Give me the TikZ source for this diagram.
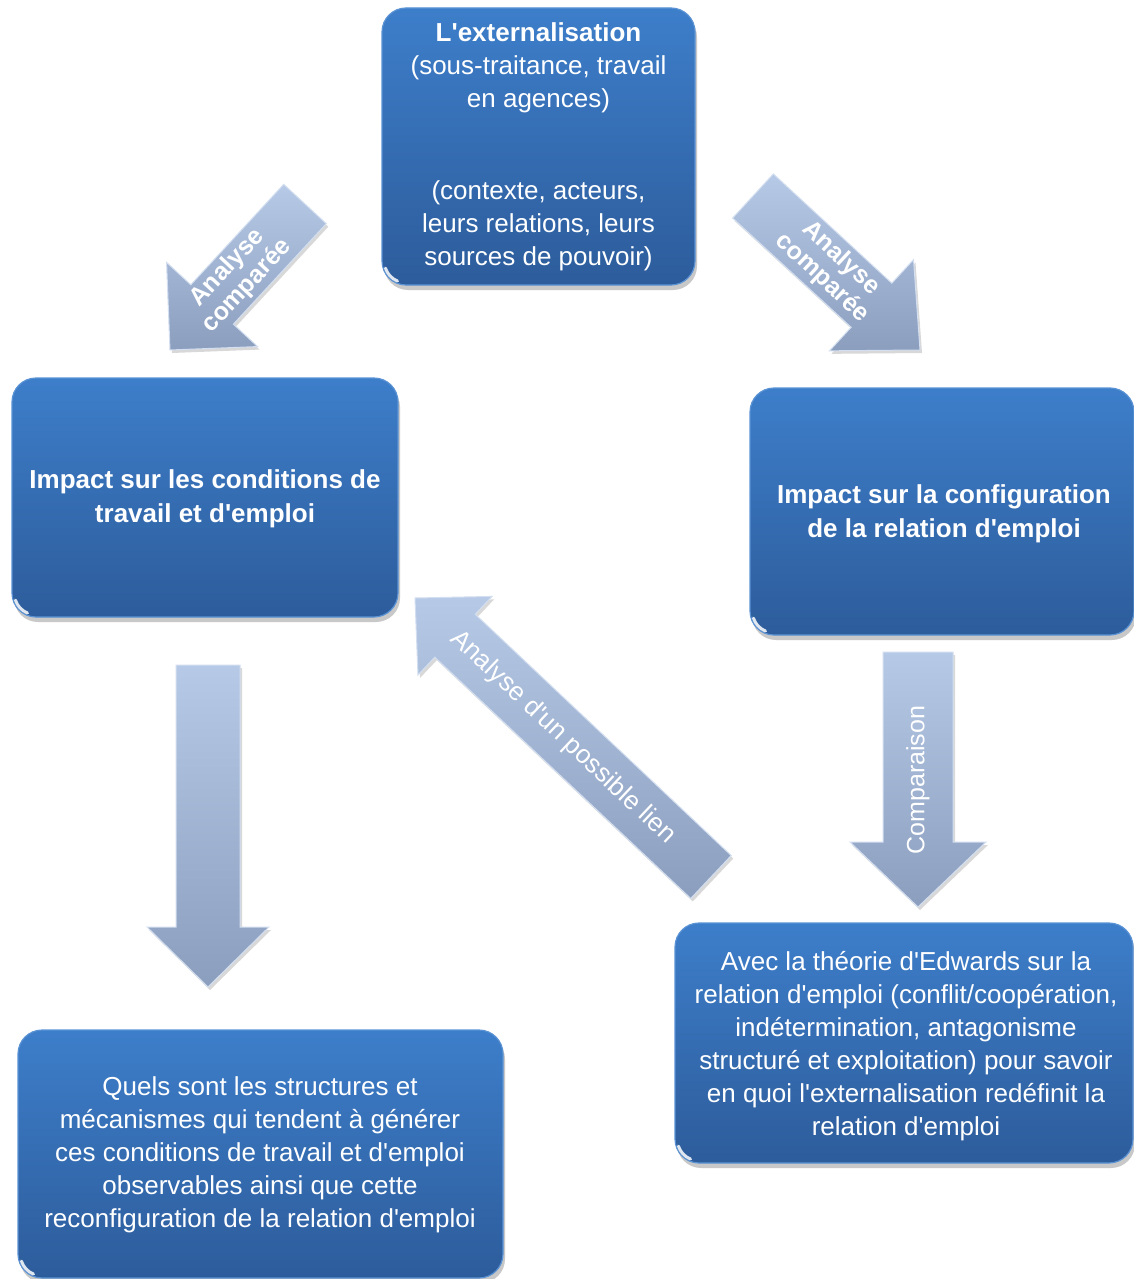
\documentclass[tikz,border=0pt]{standalone}
\usepackage{fontspec}
\setmainfont{Liberation Sans}[Ligatures=TeXOff]
\usetikzlibrary{calc,shadows}

\definecolor{boxtop}{HTML}{3D7ECA}
\definecolor{boxbot}{HTML}{2D5C9B}
\definecolor{boxedge}{HTML}{5A92D4}
\definecolor{arrtop}{HTML}{B6C9E6}
\definecolor{arrbot}{HTML}{8B9EBE}
\definecolor{arredge}{HTML}{D3DFF0}

\tikzset{
  box/.style={rectangle, rounded corners=24pt, top color=boxtop, bottom color=boxbot,
    draw=boxedge, line width=1.2pt, inner sep=0pt,
    drop shadow={shadow xshift=2pt, shadow yshift=-5pt, opacity=0.3, fill=black!70}},
  boxtext/.style={text=white, align=center, inner sep=0pt, font=\fontsize{26}{33}\selectfont},
  boldtext/.style={boxtext, font=\fontsize{26}{33.5}\selectfont\bfseries},
  arrowbody/.style={top color=arrtop, bottom color=arrbot, draw=arredge, line width=1pt,
    drop shadow={shadow xshift=2pt, shadow yshift=-3pt, opacity=0.25, fill=black!60}},
  arrowlabel/.style={text=white, align=center, inner sep=0pt, font=\fontsize{25}{27}\selectfont},
}

% block arrow from tail #1 to tip #2; shaft half-width #3, head half-width #4, head length #5
\newcommand{\blockarrow}[5]{%
  \coordinate (#1-hb) at ($(#2)!#5!(#1)$);
  \path[arrowbody]
    ($(#1)!#3!90:(#2)$) -- ($(#1-hb)!#3!90:(#2)$) -- ($(#1-hb)!#4!90:(#2)$) -- (#2)
    -- ($(#1-hb)!#4!-90:(#2)$) -- ($(#1-hb)!#3!-90:(#2)$) -- ($(#1)!#3!-90:(#2)$) -- cycle;
}

% small bright reflection on the lower left corner of a box
\newcommand{\glint}[1]{%
  \draw[white, line width=3pt, line cap=round, opacity=0.85]
    ($(#1.south west)+(24,-24)$) ++(198:21pt) arc[start angle=198, end angle=248, radius=21pt];
}

\begin{document}
\begin{tikzpicture}[x=1pt, y=-1pt]
  \fill[white] (0,0) rectangle (1133,1279);
  \useasboundingbox (0,0) rectangle (1133,1279);

  % boxes
  \node[box, minimum width=313pt, minimum height=277pt] (ext) at (538.5,146.5) {};
  \node[box, minimum width=386pt, minimum height=239pt] (cond) at (205,497.5) {};
  \node[box, minimum width=384pt, minimum height=247pt] (config) at (942,511.5) {};
  \node[box, minimum width=458pt, minimum height=240pt] (edw) at (904,1043) {};
  \node[box, minimum width=485pt, minimum height=248pt] (quels) at (260.5,1154) {};
  \glint{ext}\glint{cond}\glint{config}\glint{edw}\glint{quels}

  % box texts
  \node[boxtext] (extA) at (538.5,68) {\textbf{L'externalisation}\\(sous-traitance, travail\\en agences)};
  \node[boxtext] (extB) at (538.5,226) {(contexte, acteurs,\\leurs relations, leurs\\sources de pouvoir)};
  \node[boldtext] (condT) at (205,499) {Impact sur les conditions de\\travail et d'emploi};
  \node[boldtext] (configT) at (944,514) {Impact sur la configuration\\de la relation d'emploi};
  \node[boxtext] (edwT) at (906,1046) {Avec la théorie d'Edwards sur la\\relation d'emploi (conflit/coopération,\\indétermination, antagonisme\\structuré et exploitation) pour savoir\\en quoi l'externalisation redéfinit la\\relation d'emploi};
  \node[boxtext] (quelsT) at (260,1155) {Quels sont les structures et\\mécanismes qui tendent à générer\\ces conditions de travail et d'emploi\\observables ainsi que cette\\reconfiguration de la relation d'emploi};

  % block arrows
  \coordinate (aL) at (305,204);   \coordinate (aLtip) at (170,350);
  \coordinate (aR) at (753,196);   \coordinate (aRtip) at (920,350);
  \coordinate (aM) at (711,877);   \coordinate (aMtip) at (415,598);
  \coordinate (aC) at (918,652);   \coordinate (aCtip) at (918,907);
  \coordinate (aD) at (208,665);   \coordinate (aDtip) at (208,987);

  \blockarrow{aL}{aLtip}{29pt}{62pt}{62pt}
  \blockarrow{aR}{aRtip}{30pt}{62pt}{66pt}
  \blockarrow{aM}{aMtip}{29.5pt}{54pt}{55pt}
  \blockarrow{aC}{aCtip}{35pt}{68pt}{65pt}
  \blockarrow{aD}{aDtip}{32pt}{61pt}{60pt}

  % arrow labels
  \node[arrowlabel, font=\fontsize{25}{27}\selectfont\bfseries, rotate=47] (lblL) at ($(aL)!0.5!(aLtip)$) {Analyse\\comparée};
  \node[arrowlabel, font=\fontsize{25}{27}\selectfont\bfseries, rotate=-43] (lblR) at ($(aR)!0.47!(aRtip)$) {Analyse\\comparée};
  \node[arrowlabel, font=\fontsize{26}{28}\selectfont, rotate=-43.3] (lblM) at ($(aM)!0.5!(aMtip)$) {Analyse d'un possible lien};
  \node[arrowlabel, rotate=90] (lblC) at (918,780) {Comparaison};
\end{tikzpicture}
\end{document}
